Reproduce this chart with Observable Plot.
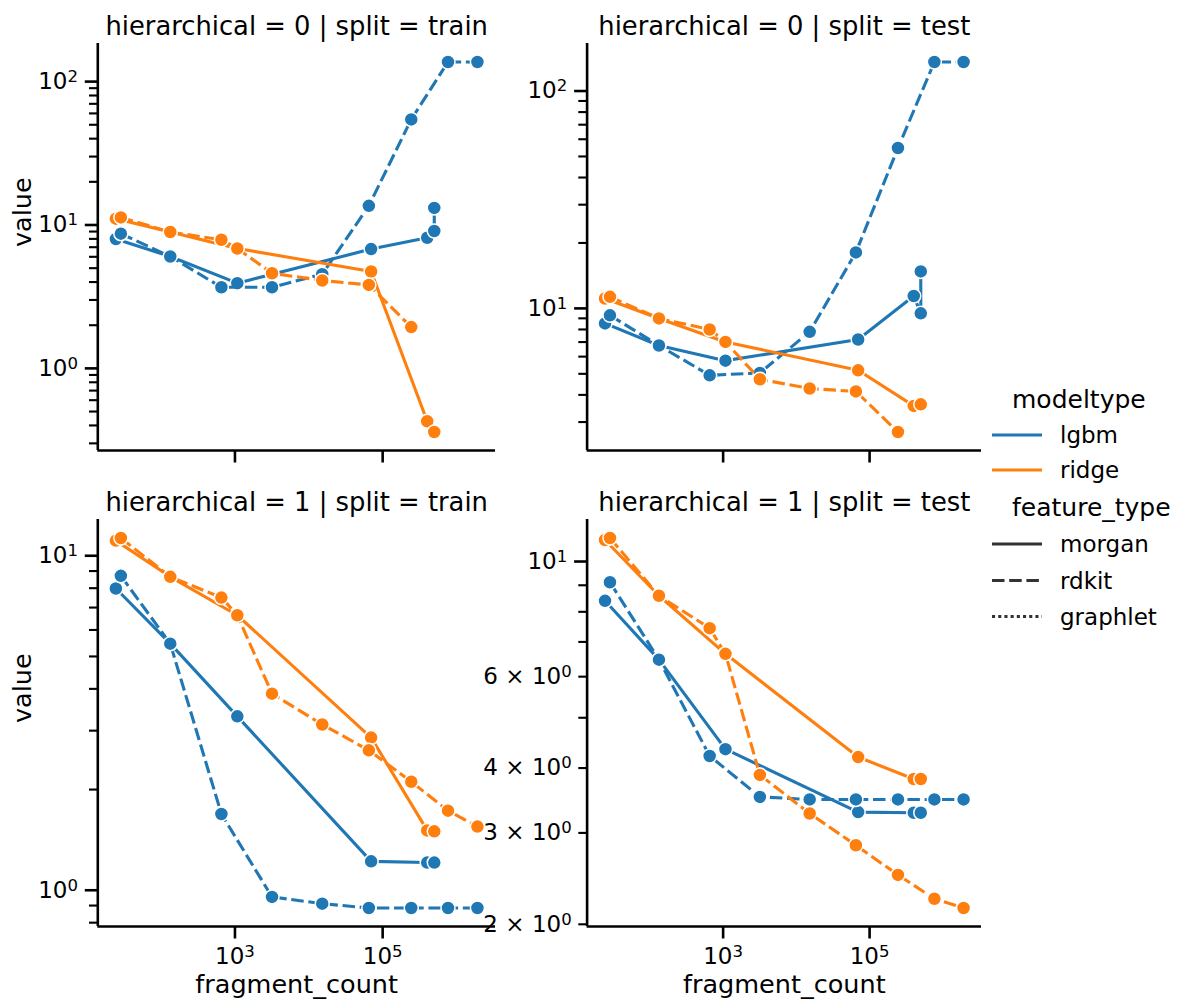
<!DOCTYPE html>
<html><head><meta charset="utf-8">
<script src="https://cdn.jsdelivr.net/npm/d3@7"></script>
<script src="https://cdn.jsdelivr.net/npm/@observablehq/plot@0.6"></script>
<style>
body{margin:0;background:#fff;}
#wrap{position:relative;width:1180px;height:1000px;font-family:"DejaVu Sans",sans-serif;background:#fff;}
#wrap svg{position:absolute;left:0;top:0;}
</style></head><body><div id="wrap"></div>
<script>
// ---- categories ----
const modelTypes = ["lgbm", "ridge"];
const featureTypes = ["morgan", "rdkit", "graphlet"];
const modelColors = ["#1f77b4", "#ff7f0e"];
const panelTitles = ["hierarchical = 0 | split = train", "hierarchical = 0 | split = test",
                     "hierarchical = 1 | split = train", "hierarchical = 1 | split = test"];

// ---- fragment_count (x) ----
const fragmentCountMorgan = [24.4, 133, 1076, 69800, 401000, 500000, 500000];
const fragmentCountRdkit = [28.5, 133, 655, 3175, 15200, 65000, 244000, 767000, 1920000];
const fragmentCountRdkitRidge = [28.5, 133, 655, 1076, 3175, 15200, 65000, 244000, 767000, 1920000];

// ---- values ----
const h0TrainLgbmMorgan = [7.98, 6.03, 3.93, 6.79, 8.15, 9.08, 13.15];
const h0TrainLgbmRdkit = [8.70, 6.03, 3.68, 3.68, 4.54, 13.6, 54.5, 137, 137];
const h0TrainRidgeMorgan = [11.07, 8.93, 6.86, 4.74, 0.428, 0.360];
const h0TrainRidgeRdkit = [11.3, 8.93, 7.89, 6.86, 4.61, 4.10, 3.82, 1.94];

const h0TestLgbmMorgan = [8.53, 6.75, 5.75, 7.19, 11.4, 9.49, 14.8];
const h0TestLgbmRdkit = [9.29, 6.75, 4.92, 5.05, 7.80, 18.1, 54.7, 136, 136];
const h0TestRidgeMorgan = [11.1, 8.99, 7.01, 5.19, 3.56, 3.62];
const h0TestRidgeRdkit = [11.3, 8.99, 8.00, 7.01, 4.72, 4.28, 4.15, 2.70];

const h1TrainLgbmMorgan = [7.98, 5.46, 3.31, 1.22, 1.21, 1.21];
const h1TrainLgbmRdkit = [8.71, 5.46, 1.69, 0.955, 0.912, 0.885, 0.885, 0.885, 0.885];
const h1TrainRidgeMorgan = [11.1, 8.65, 6.64, 2.86, 1.51, 1.50];
const h1TrainRidgeRdkit = [11.3, 8.65, 7.50, 6.64, 3.87, 3.13, 2.62, 2.11, 1.73, 1.55];

const h1TestLgbmMorgan = [8.40, 6.47, 4.35, 3.29, 3.28, 3.28];
const h1TestLgbmRdkit = [9.12, 6.47, 4.22, 3.52, 3.48, 3.48, 3.48, 3.48, 3.48];
const h1TestRidgeMorgan = [11.0, 8.59, 6.64, 4.20, 3.81, 3.81];
const h1TestRidgeRdkit = [11.1, 8.59, 7.44, 6.64, 3.88, 3.27, 2.84, 2.49, 2.24, 2.15];

// ---- layout ----
const W = 1180, H = 1000;
const frames = [[97.3, 495, 43, 450], [586.6, 981, 43, 450], [97.3, 495, 519, 926], [586.6, 981, 519, 926]];
const panelSeries = [
  [[0, 0, fragmentCountMorgan, h0TrainLgbmMorgan], [0, 1, fragmentCountRdkit, h0TrainLgbmRdkit],
   [1, 0, fragmentCountMorgan, h0TrainRidgeMorgan], [1, 1, fragmentCountRdkitRidge, h0TrainRidgeRdkit]],
  [[0, 0, fragmentCountMorgan, h0TestLgbmMorgan], [0, 1, fragmentCountRdkit, h0TestLgbmRdkit],
   [1, 0, fragmentCountMorgan, h0TestRidgeMorgan], [1, 1, fragmentCountRdkitRidge, h0TestRidgeRdkit]],
  [[0, 0, fragmentCountMorgan, h1TrainLgbmMorgan], [0, 1, fragmentCountRdkit, h1TrainLgbmRdkit],
   [1, 0, fragmentCountMorgan, h1TrainRidgeMorgan], [1, 1, fragmentCountRdkitRidge, h1TrainRidgeRdkit]],
  [[0, 0, fragmentCountMorgan, h1TestLgbmMorgan], [0, 1, fragmentCountRdkit, h1TestLgbmRdkit],
   [1, 0, fragmentCountMorgan, h1TestRidgeMorgan], [1, 1, fragmentCountRdkitRidge, h1TestRidgeRdkit]]
];
const dashes = [null, "12.5,4.7", "3.1,3.1"];

const supDigits = "⁰¹²³⁴⁵⁶⁷⁸⁹";
const sup = n => String(n).split("").map(c => c === "-" ? "⁻" : supDigits[+c]).join("");
const unsup = s => s.split("").map(c => c === "⁻" ? "−" : String(supDigits.indexOf(c))).join("");
const pow10 = v => "10" + sup(Math.round(Math.log10(v)));

function logPad(vals) {
  const lo = Math.log10(d3.min(vals)), hi = Math.log10(d3.max(vals));
  const m = (hi - lo) * 0.05;
  return [Math.pow(10, lo - m), Math.pow(10, hi + m)];
}

// render "10⁵" as 10 with a raised, smaller exponent (like matplotlib mathtext)
function raiseExponents(svg) {
  d3.select(svg).selectAll("text").each(function() {
    if (this.querySelector("tspan")) return;
    const t = this.textContent;
    const m = t.match(/^(.*10)([⁰¹²³⁴⁵⁶⁷⁸⁹⁻]+)$/);
    if (!m) return;
    const el = d3.select(this);
    el.text(null);
    el.append("tspan").text(m[1]);
    el.append("tspan").attr("dy", "-0.42em").attr("font-size", "0.72em").text(unsup(m[2]));
  });
}

const allX = [...fragmentCountMorgan, ...fragmentCountRdkit, ...fragmentCountRdkitRidge];
const xDomain = logPad(allX);
const xMajor = [1e1, 1e3, 1e5, 1e7].filter(v => v >= xDomain[0] && v <= xDomain[1]);

const wrap = document.getElementById("wrap");

panelSeries.forEach((series, pi) => {
  const [L, R, T, B] = frames[pi];
  const isBottom = pi >= 2, isLeft = pi % 2 === 0;
  const yDomain = logPad(series.flatMap(s => s[3]));
  const e0 = Math.floor(Math.log10(yDomain[0])), e1 = Math.ceil(Math.log10(yDomain[1]));
  const yMajor = [], yMinor = [];
  for (let e = e0; e <= e1; e++) {
    const b = Math.pow(10, e);
    if (b >= yDomain[0] && b <= yDomain[1]) yMajor.push(b);
    for (let k = 2; k <= 9; k++) {
      const v = k * b;
      if (v >= yDomain[0] && v <= yDomain[1]) yMinor.push(v);
    }
  }
  const span = Math.log10(yDomain[1]) - Math.log10(yDomain[0]);
  const minorFmt = v => {
    if (span >= 1) return "";
    const e = Math.floor(Math.log10(v) + 1e-9);
    const k = Math.round(v / Math.pow(10, e));
    return [2, 3, 4, 6].includes(k) ? `${k} × 10${sup(e)}` : "";
  };

  const marks = [];
  for (const [m, f, xs, vs] of series) {
    const pts = vs.map((v, i) => ({fragment_count: xs[i], value: v}));
    marks.push(Plot.line(pts, {x: "fragment_count", y: "value", stroke: modelColors[m], strokeWidth: 3.1,
      strokeDasharray: dashes[f], strokeLinejoin: "round", strokeLinecap: "butt"}));
    marks.push(Plot.dot(pts, {x: "fragment_count", y: "value", r: 7, fill: modelColors[m],
      stroke: "white", strokeWidth: 1.5}));
  }
  marks.push(Plot.ruleX([xDomain[0]], {stroke: "black", strokeWidth: 2.6}));
  marks.push(Plot.ruleY([yDomain[0]], {stroke: "black", strokeWidth: 2.6}));
  marks.push(Plot.axisX({ticks: xMajor, tickSize: 12.5, tickPadding: 9, strokeWidth: 2.6, fontSize: 23,
    tickFormat: isBottom ? pow10 : () => "", label: null}));
  marks.push(Plot.axisY({ticks: yMajor, tickSize: 12.5, tickPadding: 7.3, strokeWidth: 2.6, fontSize: 23,
    tickFormat: pow10, label: null}));
  marks.push(Plot.axisY({ticks: yMinor, tickSize: 8.3, tickPadding: 7.1, strokeWidth: 2.1, fontSize: 23,
    tickFormat: minorFmt, label: null}));
  marks.push(Plot.text([panelTitles[pi]], {text: d => d, frameAnchor: "top", dy: -8.3, lineAnchor: "bottom", fontSize: 25.8, fill: "black"}));
  if (isLeft) marks.push(Plot.text(["value"], {text: d => d, frameAnchor: "left", dx: 22 - L, rotate: -90, lineAnchor: "middle", fontSize: 25.5, fill: "black"}));
  if (isBottom) marks.push(Plot.text(["fragment_count"], {text: d => d, frameAnchor: "bottom", dy: 984 - B, lineAnchor: "middle", fontSize: 25.5, fill: "black"}));

  const svg = Plot.plot({
    width: W, height: H,
    marginLeft: L, marginRight: W - R, marginTop: T, marginBottom: H - B,
    x: {type: "log", domain: xDomain, label: null},
    y: {type: "log", domain: yDomain, label: null},
    style: {background: "transparent", overflow: "visible", fontFamily: "DejaVu Sans", color: "black", maxWidth: "none"},
    marks
  });
  svg.style.position = "absolute"; svg.style.left = "0px"; svg.style.top = "0px";
  raiseExponents(svg);
  wrap.appendChild(svg);
});

// ---- legend ----
const leg = d3.select(wrap).append("svg").attr("width", W).attr("height", H)
  .style("font-family", "DejaVu Sans").style("overflow", "visible");
const rowY = [399, 435, 470, 507, 544, 580.5, 616.5];
leg.append("text").attr("x", 1012).attr("y", rowY[0] + 8.5).attr("font-size", 25).text("modeltype");
modelTypes.forEach((t, i) => {
  const y = rowY[1 + i];
  leg.append("line").attr("x1", 992).attr("x2", 1042).attr("y1", y).attr("y2", y)
    .attr("stroke", modelColors[i]).attr("stroke-width", 3.1);
  leg.append("text").attr("x", 1060).attr("y", y + 8).attr("font-size", 23).text(t);
});
leg.append("text").attr("x", 1012).attr("y", rowY[3] + 8.5).attr("font-size", 25).text("feature_type");
featureTypes.forEach((t, i) => {
  const y = rowY[4 + i];
  leg.append("line").attr("x1", 992).attr("x2", 1042).attr("y1", y).attr("y2", y)
    .attr("stroke", "#333333").attr("stroke-width", 3.1)
    .attr("stroke-dasharray", dashes[i] || null);
  leg.append("text").attr("x", 1060).attr("y", y + 8).attr("font-size", 23).text(t);
});
</script></body></html>
